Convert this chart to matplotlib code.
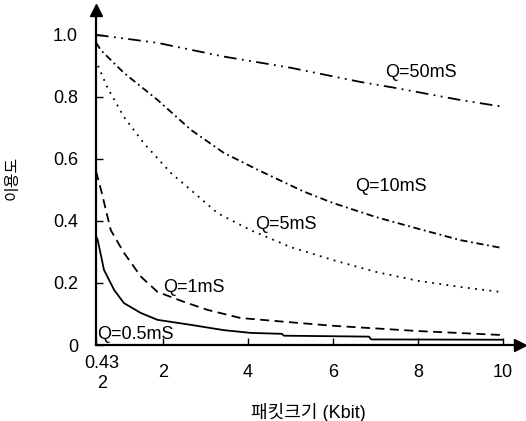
import matplotlib
matplotlib.use("Agg")
import matplotlib.pyplot as plt
from matplotlib.transforms import ScaledTranslation

plt.rcParams['font.family'] = ['Liberation Sans', 'Noto Sans CJK KR']

# 패킷 크기(Kbit)에 따른 이용도, 타임 퀀텀 Q 별
x_q50 = [0.432, 1.88, 3.43, 5.0, 6.65, 7.42, 8.99, 10]
y_q50 = [1.0, 0.974, 0.93, 0.894, 0.848, 0.83, 0.79, 0.768]

x_q10 = [0.432, 0.55, 1.09, 1.88, 2.66, 3.43, 4.23, 5.31, 6, 7, 8, 9, 10]
y_q10 = [0.975, 0.95, 0.877, 0.79, 0.694, 0.62, 0.565, 0.495, 0.458, 0.413, 0.375, 0.338, 0.312]

x_q5 = [0.48, 0.7, 1.09, 1.56, 2.19, 2.66, 3.29, 4.07, 5.0, 6, 7, 8, 9, 10]
y_q5 = [0.90, 0.83, 0.735, 0.65, 0.555, 0.50, 0.425, 0.37, 0.316, 0.274, 0.236, 0.207, 0.187, 0.17]

x_q1 = [0.432, 0.55, 0.78, 1.09, 1.49, 1.88, 2.5, 3.06, 3.83, 4.94, 6, 8, 10]
y_q1 = [0.56, 0.50, 0.37, 0.297, 0.22, 0.171, 0.139, 0.113, 0.087, 0.074, 0.062, 0.045, 0.032]

x_q05 = [0.432, 0.47, 0.62, 0.86, 1.09, 1.49, 1.88, 2.66, 3.43, 4.07, 4.8, 4.85, 6.85, 6.9, 10]
y_q05 = [0.35, 0.34, 0.242, 0.177, 0.135, 0.103, 0.081, 0.065, 0.048, 0.039, 0.036, 0.03, 0.027, 0.018, 0.017]

labels = ['Q=50mS', 'Q=10mS', 'Q=5mS', 'Q=1mS', 'Q=0.5mS']
label_pos = [(7.23, 0.877), (6.53, 0.51), (4.18, 0.39), (2.0, 0.184), (0.45, 0.035)]

xticks = [0.432, 2, 4, 6, 8, 10]
xticklabels = ['0.43\n2', '2', '4', '6', '8', '10']
yticks = [0, 0.2, 0.4, 0.6, 0.8, 1.0]
yticklabels = ['0', '0.2', '0.4', '0.6', '0.8', '1.0']

W, H = 526, 421
fig = plt.figure(figsize=(W / 100, H / 100), dpi=100)
ax = fig.add_axes([96 / W, 76 / H, (520 - 96) / W, (345 - 10) / H])

styles = [(0, (7, 3, 1, 3, 1, 3)), (0, (4, 2, 1, 2)), (0, (1, 3)), (0, (5, 3)), '-']
series = [(x_q50, y_q50), (x_q10, y_q10), (x_q5, y_q5), (x_q1, y_q1), (x_q05, y_q05)]
for (xs, ys), ls in zip(series, styles):
    ax.plot(xs, ys, color='black', linestyle=ls, linewidth=1.3)

for text, (tx, ty) in zip(labels, label_pos):
    ax.text(tx, ty, text, fontsize=13, ha='left', va='center')

ax.set_xlim(0.432, 10.4)
ax.set_ylim(0, 1.08)
for side in ['top', 'right']:
    ax.spines[side].set_visible(False)
for side in ['left', 'bottom']:
    ax.spines[side].set_linewidth(1.6)

# arrow heads on both axes
ax.plot(1, 0, '>', color='black', markersize=9, transform=ax.transAxes, clip_on=False)
ax.plot(0, 1, '^', color='black', markersize=9, transform=ax.transAxes, clip_on=False)

ax.tick_params(axis='both', direction='in', length=5, width=1, labelsize=13)
ax.tick_params(axis='x', pad=14)
ax.tick_params(axis='y', pad=13)
ax.set_xticks(xticks, xticklabels)
ax.set_yticks(yticks, yticklabels)

first = ax.get_xticklabels()[0]
first.set_linespacing(1.2)
first.set_transform(first.get_transform() + ScaledTranslation(6 / 100, 9 / 100, fig.dpi_scale_trans))

ax.set_xlabel('패킷크기 (Kbit)', fontsize=13, labelpad=8)
ax.set_ylabel('이용도', fontsize=11.5, labelpad=24)

fig.savefig('out.png', dpi=100)
